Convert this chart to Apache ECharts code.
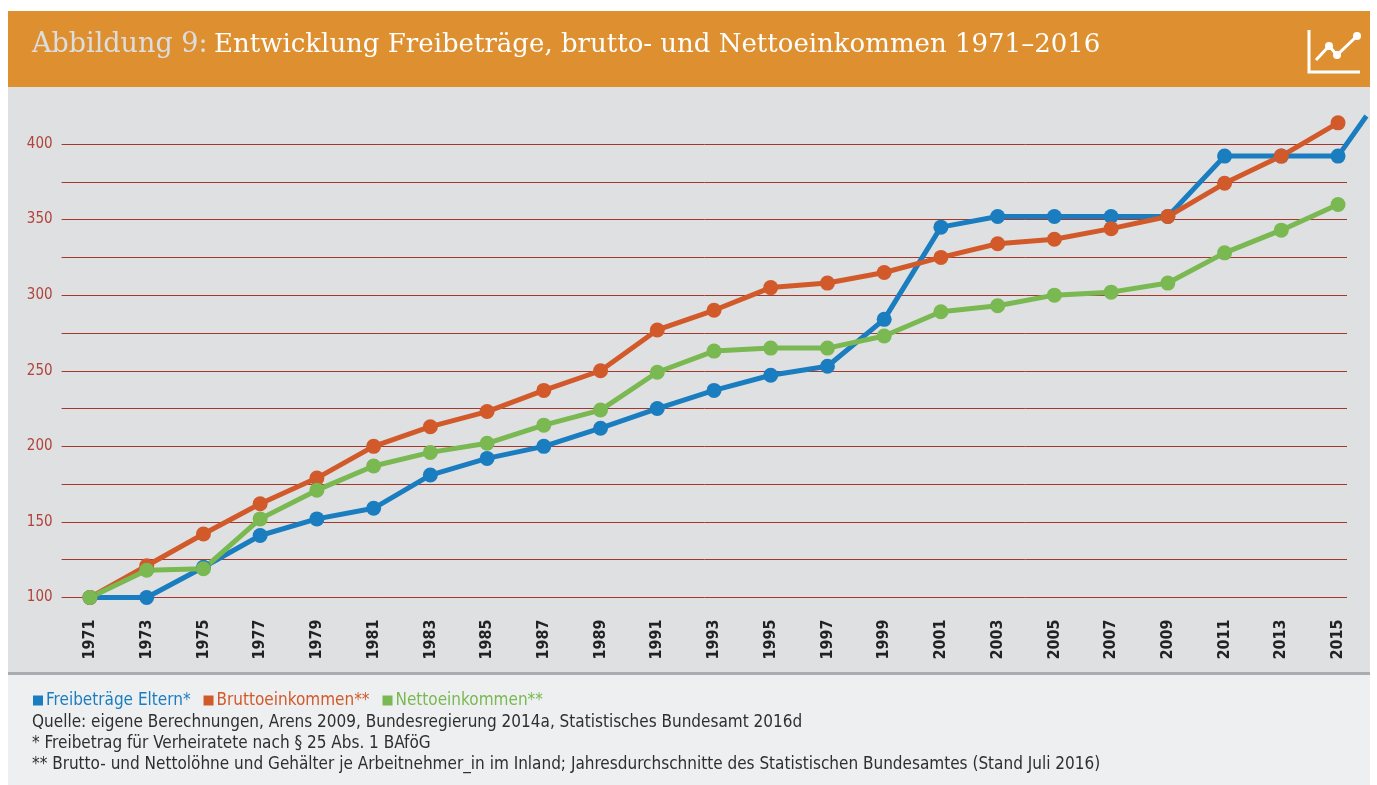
<!DOCTYPE html>
<html><head><meta charset="utf-8">
<script src="https://cdn.jsdelivr.net/npm/echarts@6/dist/echarts.min.js"></script>
<style>html,body{margin:0;padding:0;background:#fff}#c{width:1377px;height:785px}</style>
</head><body><div id="c"></div>
<script>
const years = [1971,1973,1975,1977,1979,1981,1983,1985,1987,1989,1991,1993,1995,1997,1999,2001,2003,2005,2007,2009,2011,2013,2015];
const freibetraege = [100,100,120,141,152,159,181,192,200,212,225,237,247,253,284,345,352,352,352,352,392,392,392];
const brutto = [100,121,142,162,179,200,213,223,237,250,277,290,305,308,315,325,334,337,344,352,374,392,414];
const netto = [100,118,119,152,171,187,196,202,214,224,249,263,265,265,273,289,293,300,302,308,328,343,360];
const freibetragRunoff = [2016, 418.5];
const seriesNames = ['Freibeträge Eltern*','Bruttoeinkommen**','Nettoeinkommen**'];
const seriesColors = ['#1a7dc0','#d25a2a','#7ab851'];
const titleLead = 'Abbildung 9:';
const titleMain = 'Entwicklung Freibeträge, brutto- und Nettoeinkommen 1971–2016';
const notes = [
 'Quelle: eigene Berechnungen, Arens 2009, Bundesregierung 2014a, Statistisches Bundesamt 2016d',
 '* Freibetrag für Verheiratete nach § 25 Abs. 1 BAföG',
 '** Brutto- und Nettolöhne und Gehälter je Arbeitnehmer_in im Inland; Jahresdurchschnitte des Statistischen Bundesamtes (Stand Juli 2016)'
];
const narrow = '"DejaVu Sans Condensed",sans-serif';
const pairs = v => years.map((y,i)=>[y,v[i]]);
const line = (i,data)=>({
  name: seriesNames[i], type:'line', xAxisIndex:1, yAxisIndex:1, data, clip:false, symbol:'circle', symbolSize:15,
  showSymbol:true, lineStyle:{width:5,color:seriesColors[i]}, itemStyle:{color:seriesColors[i]},
  animation:false, emphasis:{disabled:true}
});
const blueSeries = line(0,[...pairs(freibetraege),{value:freibetragRunoff,symbol:'none'}]);
const chart = echarts.init(document.getElementById('c'),null,{renderer:'canvas'});
chart.setOption({
  animation:false,
  backgroundColor:'#ffffff',
  grid:[
    {left:61.6,top:144,width:1285.4,height:453.5},
    {left:61.6,top:144,width:1304.8,height:453.5}
  ],
  xAxis:[
    {gridIndex:0,type:'value',min:0,max:1,show:false},
    {gridIndex:1,type:'value',min:1970,max:2016,interval:1,
    axisLine:{show:false},axisTick:{show:false},splitLine:{show:false},
    axisLabel:{rotate:90,margin:22,color:'#222',fontFamily:narrow,fontWeight:'bold',fontSize:16,
      hideOverlap:false,showMinLabel:true,showMaxLabel:true,
      formatter:v=>years.includes(v)?String(v):''}}
  ],
  yAxis:[
    {gridIndex:0,type:'value',min:100,max:400,interval:25,
    axisLine:{show:false},axisTick:{show:false},
    splitLine:{show:true,lineStyle:{color:'#a5382c',width:1}},
    axisLabel:{margin:9,color:'#b0433a',fontFamily:narrow,fontSize:15,padding:[2,0,0,0],
      formatter:v=>v%50===0?String(v):''}},
    {gridIndex:1,type:'value',min:100,max:400,show:false}
  ],
  legend:{left:33,top:692,itemWidth:10,itemHeight:10,itemGap:13,icon:'rect',padding:0,
    data:seriesNames,selectedMode:false,
    textStyle:{color:'inherit',fontFamily:narrow,fontSize:17,padding:[0,0,0,-2]}},
  graphic:[
    {type:'rect',z:-10,silent:true,shape:{x:8,y:11,width:1362,height:76},style:{fill:'#de9030'}},
    {type:'rect',z:-10,silent:true,shape:{x:8,y:87,width:1362,height:585},style:{fill:'#dfe0e2'}},
    {type:'rect',z:-10,silent:true,shape:{x:8,y:672,width:1362,height:3},style:{fill:'#a9adb2'}},
    {type:'rect',z:-10,silent:true,shape:{x:8,y:675,width:1362,height:110},style:{fill:'#eeeff1'}},
    {type:'text',x:32,y:45,style:{text:titleLead,fill:'#dcdddf',font:'27px "DejaVu Serif",serif',verticalAlign:'middle'}},
    {type:'text',x:214,y:45,style:{text:titleMain,fill:'#fff',font:'26px "DejaVu Serif",serif',verticalAlign:'middle'}},
    ...notes.map((t,i)=>({type:'text',x:32,y:723+i*21,style:{text:t,fill:'#2f2f2f',font:'17px '+narrow,verticalAlign:'middle'}})),
    {type:'polyline',shape:{points:[[1309,30],[1309,72],[1360,72]]},style:{stroke:'#fff',lineWidth:3,fill:null}},
    {type:'polyline',shape:{points:[[1316,60],[1329,46],[1337,55],[1357,36]]},style:{stroke:'#fff',lineWidth:3,fill:null}},
    {type:'circle',shape:{cx:1329,cy:46,r:4},style:{fill:'#fff'}},
    {type:'circle',shape:{cx:1337,cy:55,r:4},style:{fill:'#fff'}},
    {type:'circle',shape:{cx:1357,cy:36,r:4},style:{fill:'#fff'}}
  ],
  series:[blueSeries,line(1,pairs(brutto)),line(2,pairs(netto))]
});
</script></body></html>
